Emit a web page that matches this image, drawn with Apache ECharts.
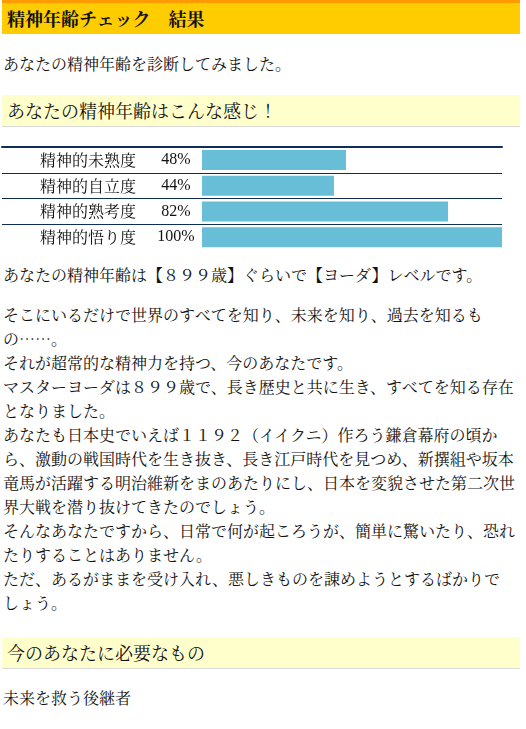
<!DOCTYPE html>
<html><head><meta charset="utf-8">
<script src="https://cdn.jsdelivr.net/npm/echarts@6/dist/echarts.min.js"></script>
<style>
html,body{margin:0;padding:0;background:#fff;width:526px;height:729px;overflow:hidden;}
body{font-family:"Noto Serif CJK JP","Noto Sans CJK JP",serif;color:#111;position:relative;}
.abs{position:absolute;white-space:nowrap;}
.hdr{left:2px;top:0;width:513px;height:31px;border-top:3px solid #ff9a00;background:#ffcc00;font-weight:bold;font-size:18px;line-height:31px;padding-left:5px;}
.box{left:2px;width:513px;height:31px;border-bottom:1px solid #d9d9d9;background:#ffffcc;font-size:18px;line-height:31px;padding-left:5px;}
.t{left:3px;font-size:16px;line-height:24px;}
#chart{position:absolute;left:0;top:140px;width:526px;height:110px;}
</style></head>
<body>
<div class="abs hdr">精神年齢チェック　結果</div>
<div class="abs t" style="top:52px">あなたの精神年齢を診断してみました。</div>
<div class="abs box" style="top:95px">あなたの精神年齢はこんな感じ！</div>
<div id="chart"></div>
<div class="abs t" style="top:263px">あなたの精神年齢は【８９９歳】ぐらいで【ヨーダ】レベルです。</div>
<div class="abs t" style="top:303px">そこにいるだけで世界のすべてを知り、未来を知り、過去を知るも<br>の……。<br>それが超常的な精神力を持つ、今のあなたです。<br>マスターヨーダは８９９歳で、長き歴史と共に生き、すべてを知る存在<br>となりました。<br>あなたも日本史でいえば１１９２（イイクニ）作ろう鎌倉幕府の頃か<br>ら、激動の戦国時代を生き抜き、長き江戸時代を見つめ、新撰組や坂本<br>竜馬が活躍する明治維新をまのあたりにし、日本を変貌させた第二次世<br>界大戦を潜り抜けてきたのでしょう。<br>そんなあなたですから、日常で何が起ころうが、簡単に驚いたり、恐れ<br>たりすることはありません。<br>ただ、あるがままを受け入れ、悪しきものを諌めようとするばかりで<br>しょう。</div>
<div class="abs box" style="top:637px">今のあなたに必要なもの</div>
<div class="abs t" style="top:686px">未来を救う後継者</div>
<script>
const categories = ['精神的未熟度','精神的自立度','精神的熟考度','精神的悟り度'];
const values = [48, 44, 82, 100];

const navy = '#0e2e55';
const barColor = '#67bed6';
const cjk = '"Noto Serif CJK JP","Noto Sans CJK JP",serif';

const chart = echarts.init(document.getElementById('chart'), null, {renderer:'canvas'});
const hiddenVal = {
  type:'value', position:'top',
  axisLine:{show:true, lineStyle:{color:navy, width:2}},
  axisTick:{show:false}, axisLabel:{show:false}, splitLine:{show:false}
};
chart.setOption({
  animation:false,
  grid:[
    {left:2, top:7, width:200, height:104},
    {left:202, top:7, width:300, height:104}
  ],
  xAxis:[
    Object.assign({gridIndex:0, min:0, max:1}, hiddenVal),
    Object.assign({gridIndex:1, min:0, max:100}, hiddenVal)
  ],
  yAxis:[
    {gridIndex:0, type:'category', data:categories, inverse:true,
     axisLine:{show:false}, axisTick:{show:false}, axisLabel:{show:false},
     splitLine:{show:true, lineStyle:{color:navy, width:1}}},
    {gridIndex:1, type:'category', data:categories, inverse:true,
     axisLine:{show:false}, axisTick:{show:false},
     axisLabel:{show:true, margin:6, color:'#111',
       formatter:(v, i) => '{a|' + v + '}{b|' + values[i] + '%}',
       rich:{
         a:{width:116, align:'left', fontSize:16, fontFamily:cjk, color:'#111'},
         b:{width:40, align:'center', fontSize:16, fontFamily:'"Liberation Serif",serif', color:'#111'}
       }},
     splitLine:{show:true, lineStyle:{color:navy, width:1}}}
  ],
  series:[{
    type:'bar', xAxisIndex:1, yAxisIndex:1, data:values, barWidth:20,
    itemStyle:{color:barColor}, silent:true
  }]
});
</script>
</body></html>
